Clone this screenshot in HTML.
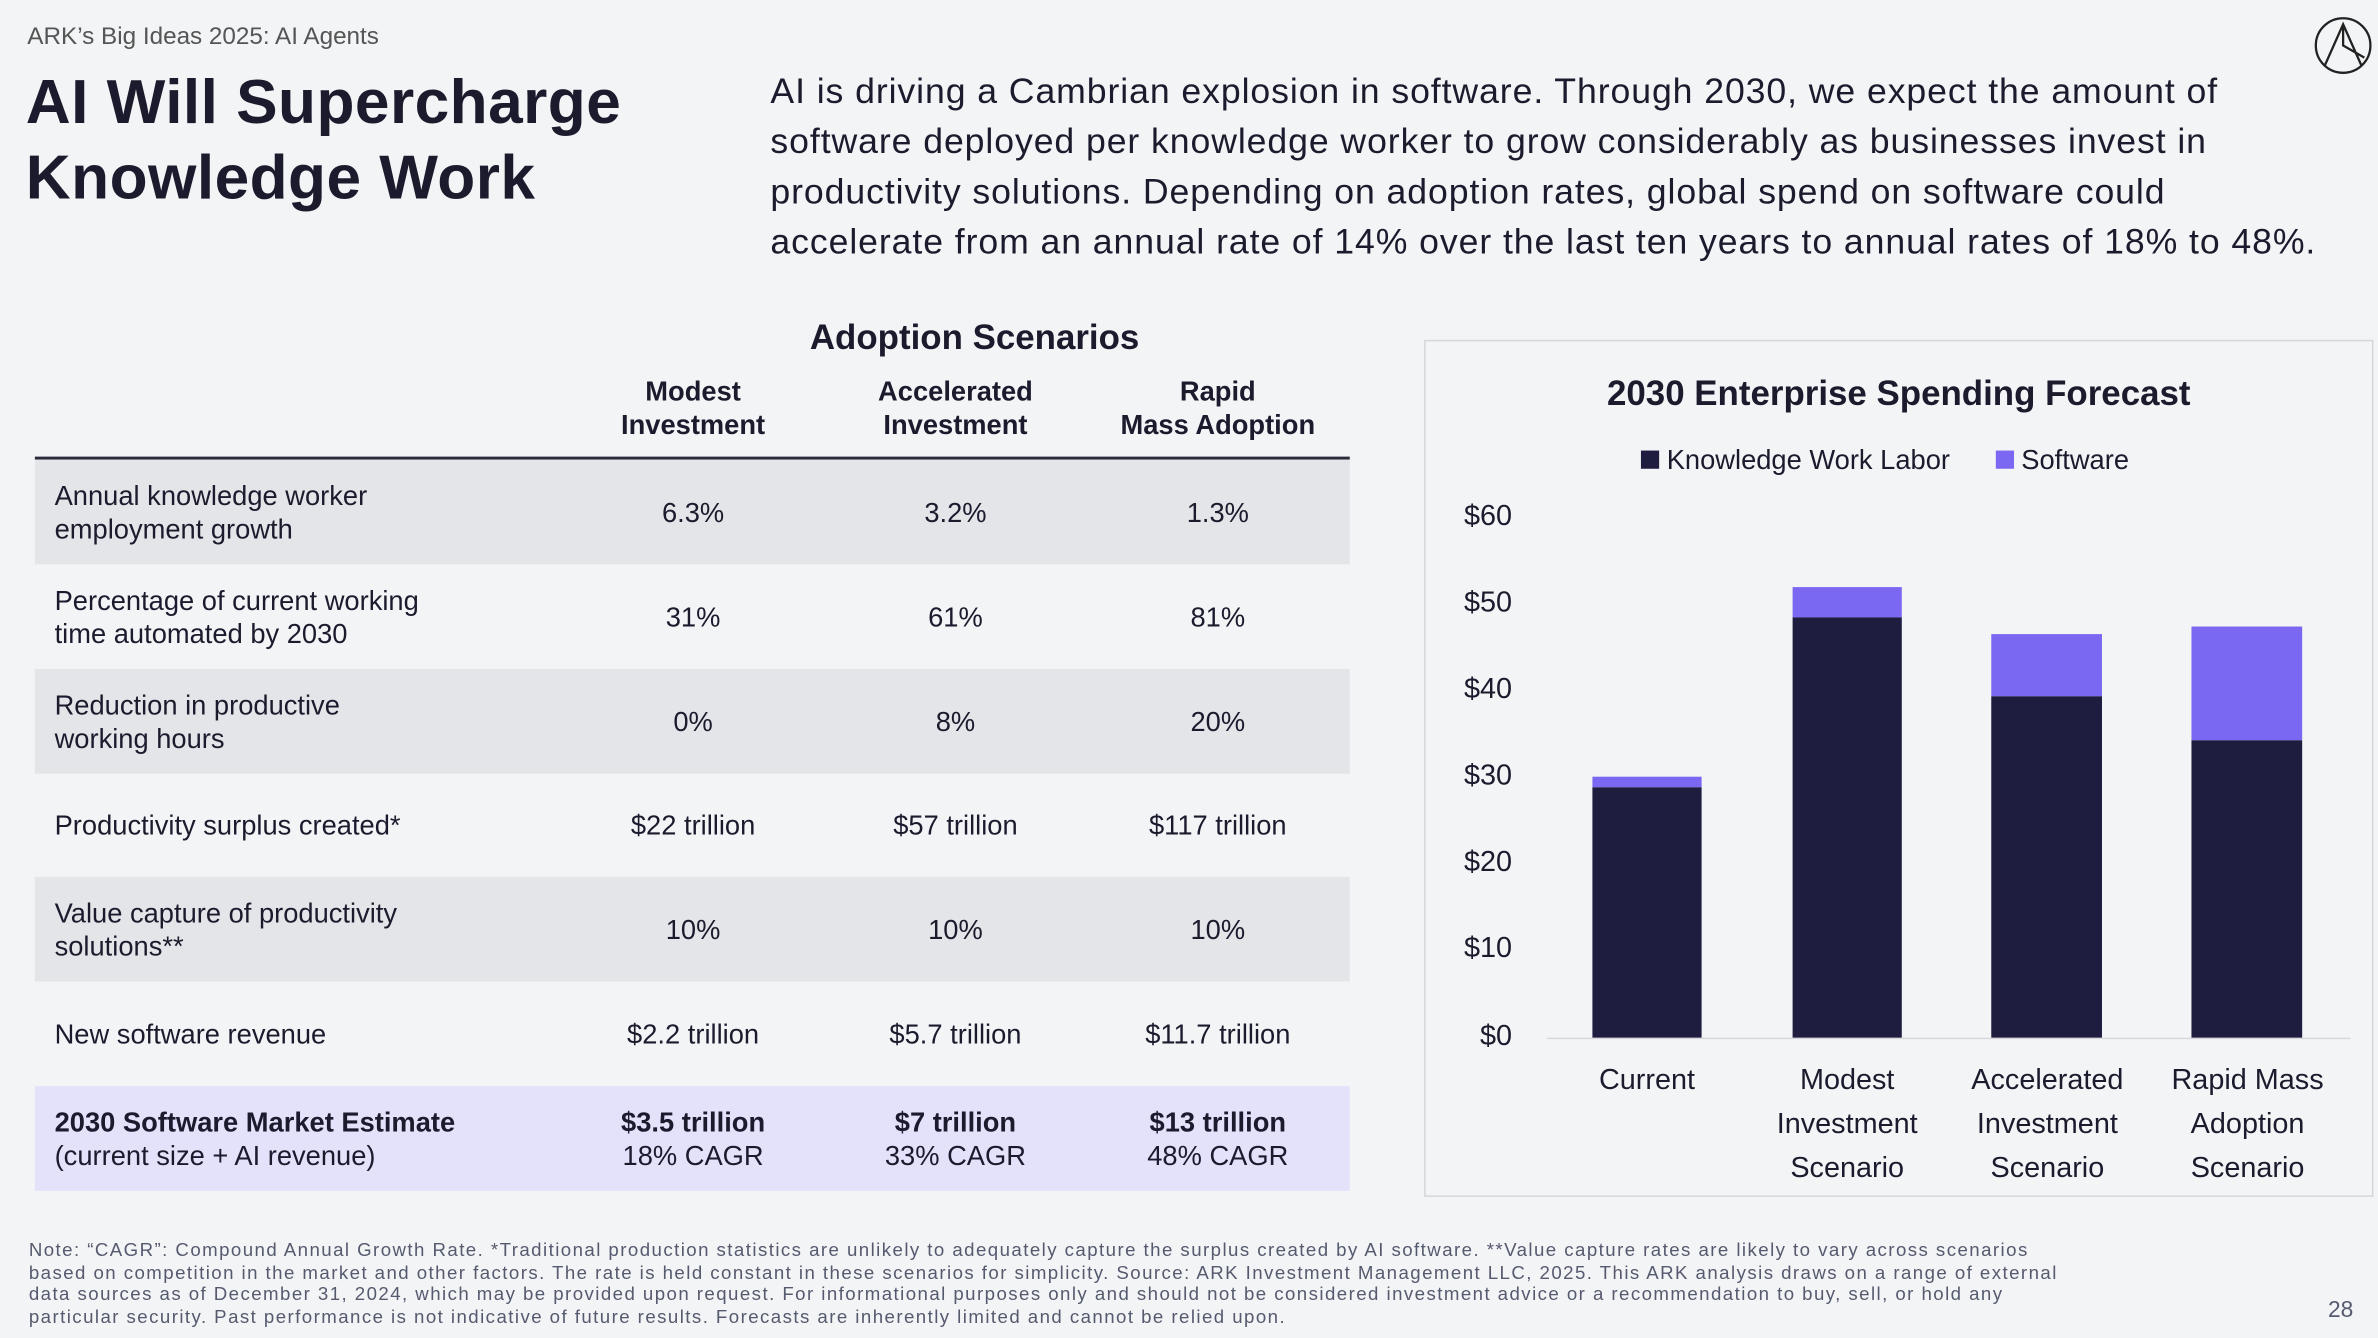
<!DOCTYPE html>
<html><head><meta charset="utf-8"><style>
html,body{margin:0;padding:0;background:#f3f4f6;}
#w{position:absolute;left:0;top:0;width:1568px;height:882px;transform:scale(1.51658,1.517);transform-origin:0 0;font-family:"Liberation Sans",sans-serif;color:#1c1b2e;overflow:hidden;background:#f3f4f6}
.a{position:absolute;white-space:nowrap}
.row{position:absolute;left:23px;width:867px;height:69px}
.lab{position:absolute;left:13px;top:0;height:69px;display:flex;align-items:center;font-size:18px;line-height:22px;white-space:nowrap}
.c{position:absolute;top:0;height:69px;width:170px;display:flex;align-items:center;justify-content:center;text-align:center;font-size:18px;line-height:22px}
.yl{position:absolute;left:955px;width:42px;text-align:right;font-size:19px}
.xl{position:absolute;width:140px;text-align:center;font-size:19px;line-height:29px}
</style></head><body><div id="w">
<div class="a" style="left:18px;top:16px;font-size:16px;color:#555">ARK’s Big Ideas 2025: AI Agents</div>
<div class="a" style="left:17px;top:42px;font-size:41px;font-weight:bold;line-height:50px;letter-spacing:0.3px">AI Will Supercharge<br>Knowledge Work</div>
<div class="a" style="left:508px;top:44px;font-size:23.5px;line-height:33px;letter-spacing:0.6px">AI is driving a Cambrian explosion in software. Through 2030, we expect the amount of<br>software deployed per knowledge worker to grow considerably as businesses invest in<br>productivity solutions. Depending on adoption rates, global spend on software could<br>accelerate from an annual rate of 14% over the last ten years to annual rates of 18% to 48%.</div>
<svg class="a" style="left:1525px;top:10px" width="40" height="40" viewBox="0 0 40 40"><circle cx="20" cy="20" r="18" fill="none" stroke="#222" stroke-width="1.5"/><path d="M8 33 L20 6 L32 33 M20 6 L20 20 L34 28" fill="none" stroke="#222" stroke-width="1.5"/></svg>

<div class="a" style="left:534px;top:209px;font-size:23px;font-weight:bold">Adoption Scenarios</div>
<div class="a" style="left:372px;top:247px;width:170px;text-align:center;font-size:18px;font-weight:bold;line-height:22px">Modest<br>Investment</div>
<div class="a" style="left:545px;top:247px;width:170px;text-align:center;font-size:18px;font-weight:bold;line-height:22px">Accelerated<br>Investment</div>
<div class="a" style="left:718px;top:247px;width:170px;text-align:center;font-size:18px;font-weight:bold;line-height:22px">Rapid<br>Mass Adoption</div>
<div class="a" style="left:23px;top:301px;width:867px;height:2px;background:#2a2a3a"></div>

<div class="row" style="top:303px;background:#e4e5e8"><div class="lab">Annual knowledge worker<br>employment growth</div><div class="c" style="left:349px">6.3%</div><div class="c" style="left:522px">3.2%</div><div class="c" style="left:695px">1.3%</div></div>
<div class="row" style="top:372px"><div class="lab">Percentage of current working<br>time automated by 2030</div><div class="c" style="left:349px">31%</div><div class="c" style="left:522px">61%</div><div class="c" style="left:695px">81%</div></div>
<div class="row" style="top:441px;background:#e4e5e8"><div class="lab">Reduction in productive<br>working hours</div><div class="c" style="left:349px">0%</div><div class="c" style="left:522px">8%</div><div class="c" style="left:695px">20%</div></div>
<div class="row" style="top:509px"><div class="lab">Productivity surplus created*</div><div class="c" style="left:349px">$22 trillion</div><div class="c" style="left:522px">$57 trillion</div><div class="c" style="left:695px">$117 trillion</div></div>
<div class="row" style="top:578px;background:#e4e5e8"><div class="lab">Value capture of productivity<br>solutions**</div><div class="c" style="left:349px">10%</div><div class="c" style="left:522px">10%</div><div class="c" style="left:695px">10%</div></div>
<div class="row" style="top:647px"><div class="lab">New software revenue</div><div class="c" style="left:349px">$2.2 trillion</div><div class="c" style="left:522px">$5.7 trillion</div><div class="c" style="left:695px">$11.7 trillion</div></div>
<div class="row" style="top:716px;background:#e4e1fb"><div class="lab"><span><b>2030 Software Market Estimate</b><br>(current size + AI revenue)</span></div><div class="c" style="left:349px"><span><b>$3.5 trillion</b><br>18% CAGR</span></div><div class="c" style="left:522px"><span><b>$7 trillion</b><br>33% CAGR</span></div><div class="c" style="left:695px"><span><b>$13 trillion</b><br>48% CAGR</span></div></div>

<div class="a" style="left:939px;top:224px;width:626px;height:565px;border:1.5px solid #d6d7da;box-sizing:border-box"></div>
<div class="a" style="left:940px;top:246px;width:624px;text-align:center;font-size:23px;font-weight:bold">2030 Enterprise Spending Forecast</div>
<div class="a" style="left:1082px;top:293px;font-size:18px"><span style="display:inline-block;width:12px;height:12px;background:#1e1d40;margin-right:5px"></span>Knowledge Work Labor<span style="display:inline-block;width:12px;height:12px;background:#7b68f2;margin:0 5px 0 30px"></span>Software</div>
<div class="yl" style="top:330px">$60</div><div class="yl" style="top:387px">$50</div><div class="yl" style="top:444px">$40</div><div class="yl" style="top:501px">$30</div><div class="yl" style="top:558px">$20</div><div class="yl" style="top:615px">$10</div><div class="yl" style="top:673px">$0</div>
<div class="a" style="left:1020px;top:684px;width:530px;height:1px;background:#d8d8dc"></div>
<div class="a" style="left:1050px;top:512px;width:72px;height:7px;background:#7b68f2"></div><div class="a" style="left:1050px;top:519px;width:72px;height:165px;background:#1e1d40"></div>
<div class="a" style="left:1182px;top:387px;width:72px;height:20px;background:#7b68f2"></div><div class="a" style="left:1182px;top:407px;width:72px;height:277px;background:#1e1d40"></div>
<div class="a" style="left:1313px;top:418px;width:73px;height:41px;background:#7b68f2"></div><div class="a" style="left:1313px;top:459px;width:73px;height:225px;background:#1e1d40"></div>
<div class="a" style="left:1445px;top:413px;width:73px;height:75px;background:#7b68f2"></div><div class="a" style="left:1445px;top:488px;width:73px;height:196px;background:#1e1d40"></div>
<div class="xl" style="left:1016px;top:698px">Current</div>
<div class="xl" style="left:1148px;top:698px">Modest<br>Investment<br>Scenario</div>
<div class="xl" style="left:1280px;top:698px">Accelerated<br>Investment<br>Scenario</div>
<div class="xl" style="left:1412px;top:698px">Rapid Mass<br>Adoption<br>Scenario</div>

<div class="a" style="left:19px;top:817px;font-size:12.3px;line-height:14.6px;color:#555a6e;letter-spacing:0.95px">Note: “CAGR”: Compound Annual Growth Rate. *Traditional production statistics are unlikely to adequately capture the surplus created by AI software. **Value capture rates are likely to vary across scenarios<br>based on competition in the market and other factors. The rate is held constant in these scenarios for simplicity. Source: ARK Investment Management LLC, 2025. This ARK analysis draws on a range of external<br>data sources as of December 31, 2024, which may be provided upon request. For informational purposes only and should not be considered investment advice or a recommendation to buy, sell, or hold any<br>particular security. Past performance is not indicative of future results. Forecasts are inherently limited and cannot be relied upon.</div>
<div class="a" style="left:1535px;top:855px;font-size:15px;color:#555a6e">28</div>
</div></body></html>
